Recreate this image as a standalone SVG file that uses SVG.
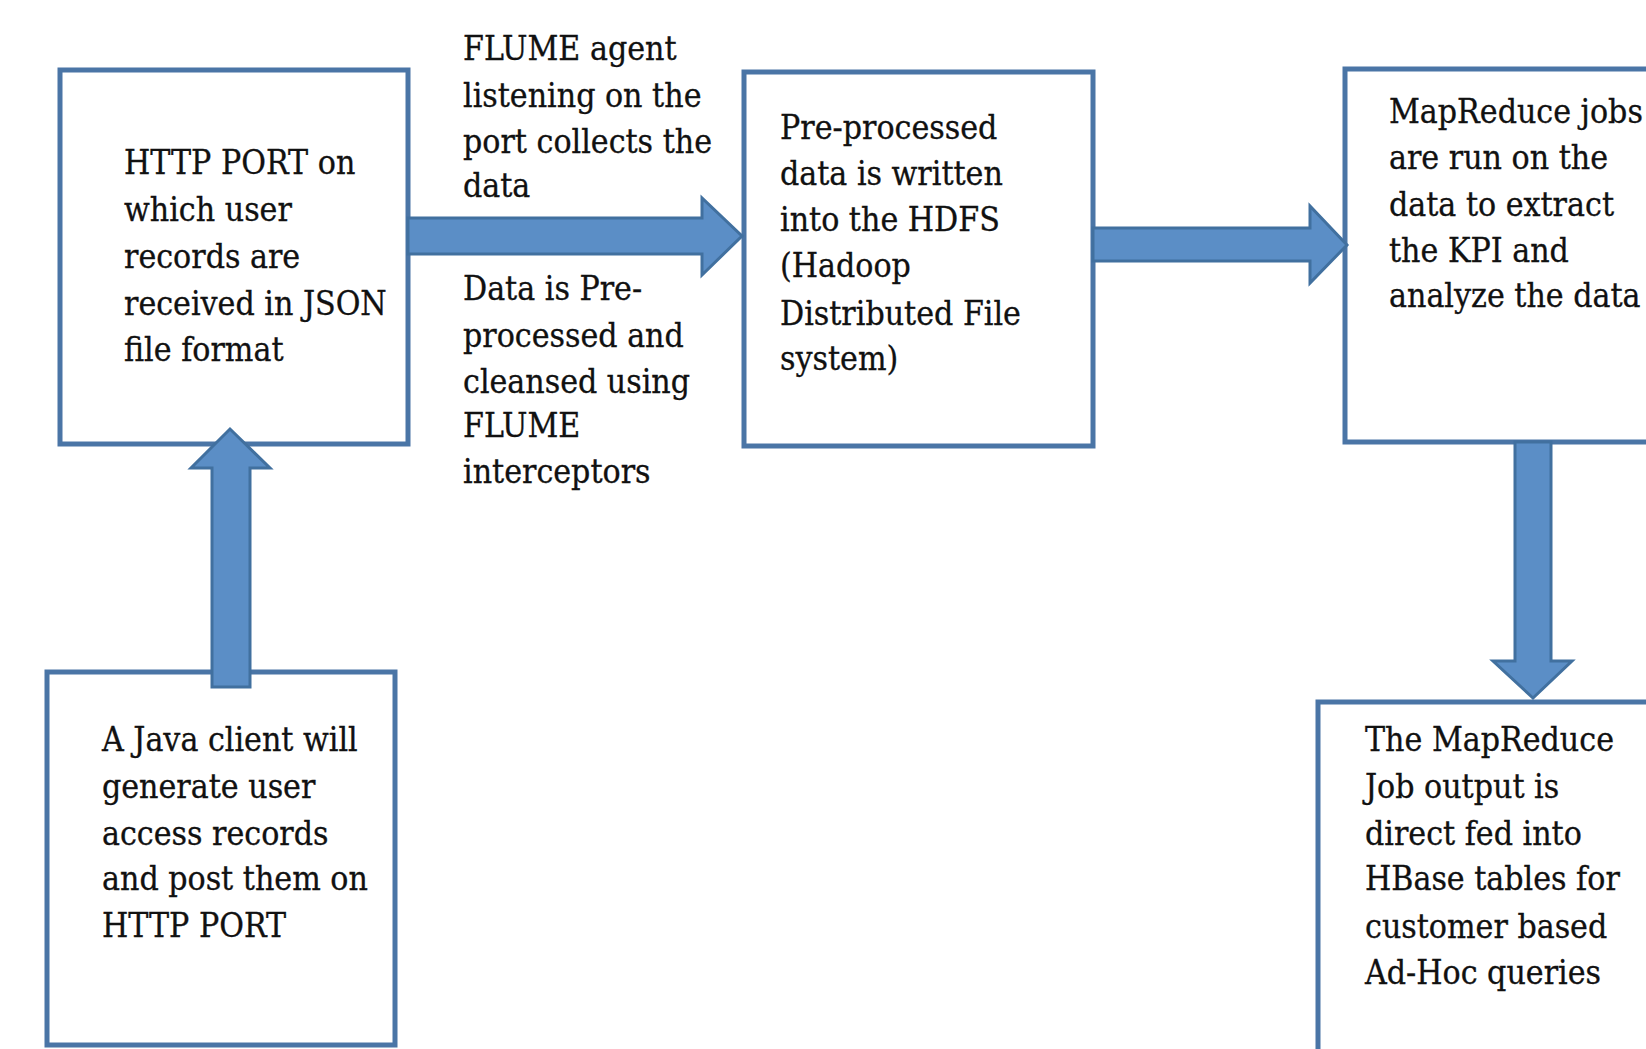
<svg xmlns="http://www.w3.org/2000/svg" width="1646" height="1049" viewBox="0 0 1646 1049">
<style>
.box{fill:#ffffff;stroke:#4a75a6;stroke-width:5}
.arr{fill:#5b8ec6;stroke:#41709f;stroke-width:3;stroke-linejoin:miter}
text{font-family:"DejaVu Serif Condensed","DejaVu Serif","Liberation Serif",serif;font-stretch:condensed;font-size:33.5px;fill:#111111;stroke:#111111;stroke-width:0.3}
</style>
<rect width="1646" height="1049" fill="#ffffff"/>
<g id="n1">
<rect class="box" x="60" y="70" width="348" height="374"/>
<text x="124" y="174">HTTP PORT on</text>
<text x="124" y="221">which user</text>
<text x="124" y="268">records are</text>
<text x="124" y="315">received in JSON</text>
<text x="124" y="361">file format</text>
</g>
<g id="n2">
<rect class="box" x="47" y="672" width="348" height="373"/>
<text x="102" y="751">A Java client will</text>
<text x="102" y="798">generate user</text>
<text x="102" y="845">access records</text>
<text x="102" y="890">and post them on</text>
<text x="102" y="937">HTTP PORT</text>
</g>
<g id="n3">
<rect class="box" x="744" y="72" width="349" height="374"/>
<text x="780" y="139">Pre-processed</text>
<text x="780" y="185">data is written</text>
<text x="780" y="231">into the HDFS</text>
<text x="780" y="277">(Hadoop</text>
<text x="780" y="325">Distributed File</text>
<text x="780" y="370">system)</text>
</g>
<g id="n4">
<rect class="box" x="1345" y="69" width="360" height="373"/>
<text x="1389" y="123">MapReduce jobs</text>
<text x="1389" y="169">are run on the</text>
<text x="1389" y="216">data to extract</text>
<text x="1389" y="262">the KPI and</text>
<text x="1389" y="307">analyze the data</text>
</g>
<g id="n5">
<rect class="box" x="1318" y="702" width="380" height="380"/>
<text x="1365" y="751">The MapReduce</text>
<text x="1365" y="798">Job output is</text>
<text x="1365" y="845">direct fed into</text>
<text x="1365" y="890">HBase tables for</text>
<text x="1365" y="938">customer based</text>
<text x="1365" y="984">Ad-Hoc queries</text>
</g>
<g id="labels">
<text x="463" y="60">FLUME agent</text>
<text x="463" y="107">listening on the</text>
<text x="463" y="153">port collects the</text>
<text x="463" y="197">data</text>
<text x="463" y="300">Data is Pre-</text>
<text x="463" y="347">processed and</text>
<text x="463" y="393">cleansed using</text>
<text x="463" y="437">FLUME</text>
<text x="463" y="483">interceptors</text>
</g>
<g id="connectors">
<path class="arr" d="M408 218 H702 V198 L742 236 L702 275 V254 H408 Z"/>
<path class="arr" d="M1093 228 H1310 V206 L1347 245 L1310 283 V261 H1093 Z"/>
<path class="arr" d="M212 687 V468 H191 L230 429 L270 468 H250 V687 Z"/>
<path class="arr" d="M1515 442 V661 H1493 L1533 698 L1572 661 H1551 V442 Z"/>
</g>
</svg>
